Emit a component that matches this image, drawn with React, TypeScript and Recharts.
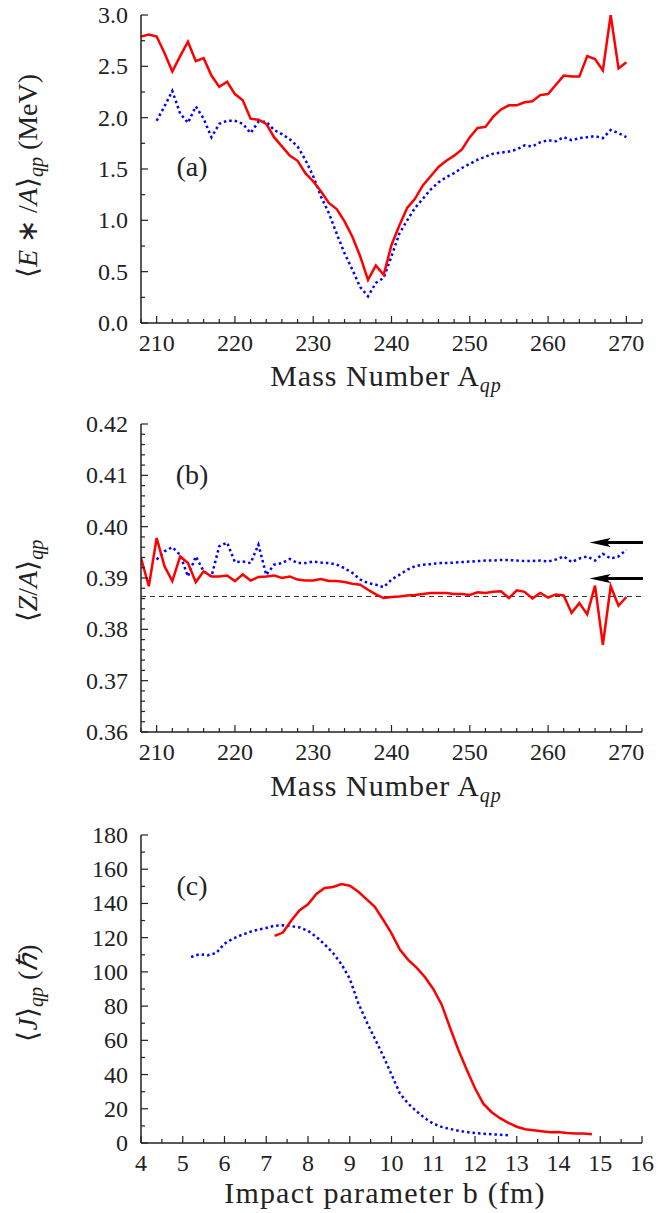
import React from 'react';
import { LineChart, Line, XAxis, YAxis, ReferenceLine } from 'recharts';

const FONT = '"Liberation Serif"';
const FRAME = '#222';
const TEXT = '#222';
const RED = '#ff0000';
const BLUE = '#0000ff';

// ---------- Panel (a) & (b): mass number axis ----------
const massNumbers = [
  208, 209, 210, 211, 212, 213, 214, 215, 216, 217, 218, 219, 220, 221, 222, 223,
  224, 225, 226, 227, 228, 229, 230, 231, 232, 233, 234, 235, 236, 237, 238, 239,
  240, 241, 242, 243, 244, 245, 246, 247, 248, 249, 250, 251, 252, 253, 254, 255,
  256, 257, 258, 259, 260, 261, 262, 263, 264, 265, 266, 267, 268, 269, 270,
];

const excitationRed = [
  2.79, 2.81, 2.79, 2.63, 2.45, 2.60, 2.74, 2.55, 2.58, 2.41, 2.30, 2.35, 2.23, 2.17, 1.99, 1.98,
  1.94, 1.81, 1.72, 1.63, 1.58, 1.46, 1.38, 1.28, 1.17, 1.11, 0.99, 0.84, 0.65, 0.42, 0.56, 0.47,
  0.76, 0.95, 1.12, 1.21, 1.34, 1.43, 1.52, 1.58, 1.63, 1.69, 1.81, 1.90, 1.91, 2.01, 2.08, 2.12,
  2.12, 2.15, 2.16, 2.22, 2.23, 2.32, 2.41, 2.40, 2.40, 2.60, 2.57, 2.46, 3.00, 2.48, 2.54,
];

const excitationBlue = [
  null, null, 1.97, 2.11, 2.26, 2.04, 1.95, 2.11, 1.99, 1.81, 1.94, 1.97, 1.97, 1.94, 1.85, 1.96,
  1.96, 1.88, 1.84, 1.79, 1.72, 1.59, 1.43, 1.23, 1.07, 0.87, 0.68, 0.52, 0.35, 0.26, 0.39, 0.44,
  0.65, 0.87, 1.00, 1.12, 1.21, 1.30, 1.37, 1.42, 1.46, 1.51, 1.55, 1.59, 1.62, 1.65, 1.66, 1.67,
  1.69, 1.73, 1.72, 1.76, 1.78, 1.77, 1.81, 1.78, 1.80, 1.81, 1.82, 1.80, 1.88, 1.85, 1.81,
];

const zOverARed = [
  0.3939, 0.3884, 0.3978, 0.3923, 0.3894, 0.3942, 0.3929, 0.3892, 0.3913, 0.3903, 0.3903, 0.3905, 0.3894, 0.3907, 0.3895, 0.3902,
  0.3903, 0.3905, 0.3900, 0.3903, 0.3897, 0.3895, 0.3895, 0.3898, 0.3894, 0.3894, 0.3892, 0.3889, 0.3887, 0.3877, 0.3868, 0.3861,
  0.3863, 0.3864, 0.3866, 0.3867, 0.3869, 0.3871, 0.3871, 0.3871, 0.3869, 0.3869, 0.3867, 0.3872, 0.3871, 0.3873, 0.3874, 0.3861,
  0.3876, 0.3873, 0.3860, 0.3871, 0.3862, 0.3868, 0.3866, 0.3832, 0.3851, 0.3829, 0.3885, 0.3770, 0.3884, 0.3846, 0.3863,
];

const zOverABlue = [
  null, null, 0.3936, 0.3952, 0.3960, 0.3945, 0.3903, 0.3942, 0.3913, 0.3903, 0.3962, 0.3969, 0.3931, 0.3932, 0.3929, 0.3965,
  0.3906, 0.3926, 0.3929, 0.3937, 0.3929, 0.3929, 0.3932, 0.3930, 0.3929, 0.3926, 0.3919, 0.3910, 0.3897, 0.3890, 0.3887, 0.3882,
  0.3897, 0.3906, 0.3916, 0.3923, 0.3926, 0.3927, 0.3929, 0.3929, 0.3930, 0.3931, 0.3932, 0.3933, 0.3934, 0.3934, 0.3935, 0.3935,
  0.3934, 0.3933, 0.3933, 0.3934, 0.3932, 0.3936, 0.3942, 0.3931, 0.3938, 0.3942, 0.3934, 0.3947, 0.3938, 0.3942, 0.3955,
];

// reference values in panel (b)
const zOverACompound = 0.3864;
const arrowLevels = [0.3969, 0.3899];
const arrowStart = 265.3;

// ---------- Panel (c): impact parameter ----------
const impactRed = [
  7.2, 7.4, 7.6, 7.8, 8.0, 8.2, 8.4, 8.6, 8.8, 9.0, 9.2, 9.4, 9.6, 9.8, 10.0, 10.2, 10.4, 10.6, 10.8, 11.0,
  11.2, 11.4, 11.6, 11.8, 12.0, 12.2, 12.4, 12.6, 12.8, 13.0, 13.2, 13.4, 13.6, 13.8, 14.0, 14.2, 14.4, 14.6, 14.8,
];
const spinRed = [
  121, 123, 130, 136, 139.5, 145.5, 149, 149.6, 151.3, 150.4, 147, 142.5, 138, 130.5, 122.5, 113, 107, 102.5, 97, 90,
  81, 67.5, 54.5, 43, 32, 23, 18, 14.5, 11.8, 9.5, 8.0, 7.4, 6.8, 6.3, 6.4, 5.8, 5.5, 5.5, 5.1,
];
const impactBlue = [
  5.2, 5.4, 5.6, 5.8, 6.0, 6.2, 6.4, 6.6, 6.8, 7.0, 7.2, 7.4, 7.6, 7.8, 8.0, 8.2, 8.4, 8.6, 8.8, 9.0,
  9.2, 9.4, 9.6, 9.8, 10.0, 10.2, 10.4, 10.6, 10.8, 11.0, 11.2, 11.4, 11.6, 11.8, 12.0, 12.2, 12.4, 12.6, 12.8,
];
const spinBlue = [
  108.7, 110.3, 109.7, 111, 116.5, 119.4, 121.5, 123.3, 124.7, 125.7, 127, 127.2, 126.7, 126, 124, 120.5, 116, 111, 104.5, 96,
  82, 71, 61, 51, 40, 29, 23, 18.5, 14.5, 11.3, 9.4, 8.2, 7.2, 6.4, 5.8, 5.4, 5.1, 4.8, 4.5,
];

// ---------- ticks ----------
const massTicks = [
  208, 210, 212, 214, 216, 218, 220, 222, 224, 226, 228, 230, 232, 234, 236, 238, 240,
  242, 244, 246, 248, 250, 252, 254, 256, 258, 260, 262, 264, 266, 268, 270, 272,
];
const massMajor = [210, 220, 230, 240, 250, 260, 270];
const exTicks = [0, 0.25, 0.5, 0.75, 1.0, 1.25, 1.5, 1.75, 2.0, 2.25, 2.5, 2.75, 3.0];
const exMajor = [0, 0.5, 1.0, 1.5, 2.0, 2.5, 3.0];
const zaTicks = [
  0.360, 0.362, 0.364, 0.366, 0.368, 0.370, 0.372, 0.374, 0.376, 0.378, 0.380, 0.382, 0.384, 0.386, 0.388, 0.390,
  0.392, 0.394, 0.396, 0.398, 0.400, 0.402, 0.404, 0.406, 0.408, 0.410, 0.412, 0.414, 0.416, 0.418, 0.420,
];
const zaMajor = [0.36, 0.37, 0.38, 0.39, 0.40, 0.41, 0.42];
const bTicks = [4, 4.5, 5, 5.5, 6, 6.5, 7, 7.5, 8, 8.5, 9, 9.5, 10, 10.5, 11, 11.5, 12, 12.5, 13, 13.5, 14, 14.5, 15, 15.5, 16];
const bMajor = [4, 5, 6, 7, 8, 9, 10, 11, 12, 13, 14, 15, 16];
const jTicks = [0, 10, 20, 30, 40, 50, 60, 70, 80, 90, 100, 110, 120, 130, 140, 150, 160, 170, 180];
const jMajor = [0, 20, 40, 60, 80, 100, 120, 140, 160, 180];

const massData = massNumbers.map((m, i) => ({
  m,
  exRed: excitationRed[i],
  exBlue: excitationBlue[i],
  zaRed: zOverARed[i],
  zaBlue: zOverABlue[i],
}));
const spinRedData = impactRed.map((b, i) => ({ b, j: spinRed[i] }));
const spinBlueData = impactBlue.map((b, i) => ({ b, j: spinBlue[i] }));

// ---------- tick renderers ----------
const MAJOR_LEN = 7;
const MINOR_LEN = 4;
const TICK_FS = 24;
const isIn = (arr: number[], v: number) => arr.some((a) => Math.abs(a - v) < 1e-9);

const bottomTick = (majors: number[], fmt: (v: number) => string) => (props: any) => {
  const { x, y, payload } = props;
  const v = payload.value;
  const major = isIn(majors, v);
  return (
    <g>
      <line x1={x} x2={x} y1={y} y2={y - (major ? MAJOR_LEN : MINOR_LEN)} stroke={FRAME} strokeWidth={1.2} />
      {major && (
        <text x={x} y={y + 27.5} textAnchor="middle" fontFamily={FONT} fontSize={TICK_FS} fill={TEXT}>
          {fmt(v)}
        </text>
      )}
    </g>
  );
};
const topTick = (majors: number[]) => (props: any) => {
  const { x, y, payload } = props;
  const major = isIn(majors, payload.value);
  return <line x1={x} x2={x} y1={y} y2={y + (major ? MAJOR_LEN : MINOR_LEN)} stroke={FRAME} strokeWidth={1.2} />;
};
const leftTick = (majors: number[], fmt: (v: number) => string) => (props: any) => {
  const { x, y, payload } = props;
  const v = payload.value;
  const major = isIn(majors, v);
  return (
    <g>
      <line x1={x} x2={x + (major ? MAJOR_LEN : MINOR_LEN)} y1={y} y2={y} stroke={FRAME} strokeWidth={1.2} />
      {major && (
        <text x={x - 13} y={y + 8} textAnchor="end" fontFamily={FONT} fontSize={TICK_FS} fill={TEXT}>
          {fmt(v)}
        </text>
      )}
    </g>
  );
};
const rightTick = (majors: number[]) => (props: any) => {
  const { x, y, payload } = props;
  const major = isIn(majors, payload.value);
  return <line x1={x} x2={x - (major ? MAJOR_LEN : MINOR_LEN)} y1={y} y2={y} stroke={FRAME} strokeWidth={1.2} />;
};

const Arrow = (props: any) => {
  const { x1, y1, x2 } = props;
  const tip = Math.min(x1, x2);
  const end = Math.max(x1, x2);
  const y = y1;
  return (
    <g>
      <line x1={tip + 14} y1={y} x2={end + 1} y2={y} stroke="#000" strokeWidth={3} />
      <polygon points={`${tip},${y} ${tip + 21},${y - 4.5} ${tip + 17},${y} ${tip + 21},${y + 4.5}`} fill="#000" />
    </g>
  );
};

const axisLineStyle = { stroke: FRAME, strokeWidth: 1.5 };
const W = 659;
const MARGIN = { top: 15, right: 17, bottom: 0, left: 0 };

function frameAxes(
  xKey: string,
  xDomain: [number, number],
  xTicks: number[],
  xMajor: number[],
  xFmt: (v: number) => string,
  yDomain: [number, number],
  yTicks: number[],
  yMajor: number[],
  yFmt: (v: number) => string,
  bottomH: number,
) {
  return [
    <XAxis
      key="xb"
      dataKey={xKey}
      type="number"
      domain={xDomain}
      ticks={xTicks}
      interval={0}
      height={bottomH}
      tickSize={0}
      tickMargin={0}
      tickLine={false}
      axisLine={axisLineStyle}
      tick={bottomTick(xMajor, xFmt)}
      allowDataOverflow
    />,
    <XAxis
      key="xt"
      xAxisId="top"
      orientation="top"
      dataKey={xKey}
      type="number"
      domain={xDomain}
      ticks={xTicks}
      interval={0}
      height={0}
      tickSize={0}
      tickMargin={0}
      tickLine={false}
      axisLine={axisLineStyle}
      tick={topTick(xMajor)}
      allowDataOverflow
    />,
    <YAxis
      key="yl"
      type="number"
      domain={yDomain}
      ticks={yTicks}
      interval={0}
      width={141}
      tickSize={0}
      tickMargin={0}
      tickLine={false}
      axisLine={axisLineStyle}
      tick={leftTick(yMajor, yFmt)}
      allowDataOverflow
    />,
    <YAxis
      key="yr"
      yAxisId="right"
      orientation="right"
      type="number"
      domain={yDomain}
      ticks={yTicks}
      interval={0}
      width={0}
      tickSize={0}
      tickMargin={0}
      tickLine={false}
      axisLine={axisLineStyle}
      tick={rightTick(yMajor)}
      allowDataOverflow
    />,
  ];
}

const TITLE_FS = 28;
const XTITLE_FS = 30;
const SUB_FS = 20;

export default function App() {
  return (
    <div style={{ position: 'absolute', left: 0, top: 0, width: W, height: 1213, background: '#fff', overflow: 'hidden' }}>
      {/* Panel (a) */}
      <div style={{ position: 'absolute', left: 0, top: 0 }}>
        <LineChart width={W} height={400} data={massData} margin={MARGIN}>
          {frameAxes('m', [208, 272], massTicks, massMajor, (v) => String(v), [0, 3], exTicks, exMajor, (v) => v.toFixed(1), 77)}
          <Line dataKey="exBlue" stroke={BLUE} strokeWidth={2.5} strokeDasharray="2.5 3" dot={false} isAnimationActive={false} connectNulls={false} />
          <Line dataKey="exRed" stroke={RED} strokeWidth={2.5} dot={false} isAnimationActive={false} />
        </LineChart>
      </div>

      {/* Panel (b) */}
      <div style={{ position: 'absolute', left: 0, top: 409 }}>
        <LineChart width={W} height={400} data={massData} margin={MARGIN}>
          {frameAxes('m', [208, 272], massTicks, massMajor, (v) => String(v), [0.36, 0.42], zaTicks, zaMajor, (v) => v.toFixed(2), 77)}
          <ReferenceLine y={zOverACompound} stroke="#333" strokeWidth={1} strokeDasharray="5 4" />
          <Line dataKey="zaBlue" stroke={BLUE} strokeWidth={2.5} strokeDasharray="2.5 3" dot={false} isAnimationActive={false} connectNulls={false} />
          <Line dataKey="zaRed" stroke={RED} strokeWidth={2.5} dot={false} isAnimationActive={false} />
          {arrowLevels.map((lv, i) => (
            <ReferenceLine
              key={i}
              segment={[{ x: arrowStart, y: lv }, { x: 272, y: lv }]}
              shape={Arrow}
              ifOverflow="visible"
            />
          ))}
        </LineChart>
      </div>

      {/* Panel (c) */}
      <div style={{ position: 'absolute', left: 0, top: 820 }}>
        <LineChart width={W} height={393} margin={MARGIN}>
          {frameAxes('b', [4, 16], bTicks, bMajor, (v) => String(v), [0, 180], jTicks, jMajor, (v) => String(v), 70)}
          <Line data={spinBlueData} dataKey="j" stroke={BLUE} strokeWidth={2.5} strokeDasharray="2.5 3" dot={false} isAnimationActive={false} />
          <Line data={spinRedData} dataKey="j" stroke={RED} strokeWidth={2.5} dot={false} isAnimationActive={false} />
        </LineChart>
      </div>

      {/* Titles & panel labels */}
      <svg width={W} height={1213} style={{ position: 'absolute', left: 0, top: 0, pointerEvents: 'none' }}>
        <g fontFamily={FONT} fill={TEXT}>
          {/* x titles */}
          <text x={386} y={386} textAnchor="middle" fontSize={XTITLE_FS} letterSpacing={1}>
            Mass Number A<tspan fontStyle="italic" fontSize={SUB_FS} dy={6}>qp</tspan>
          </text>
          <text x={386} y={796} textAnchor="middle" fontSize={XTITLE_FS} letterSpacing={1}>
            Mass Number A<tspan fontStyle="italic" fontSize={SUB_FS} dy={6}>qp</tspan>
          </text>
          <text x={385} y={1203} textAnchor="middle" fontSize={XTITLE_FS} letterSpacing={1.2}>
            Impact parameter b (fm)
          </text>

          {/* y titles */}
          <text transform="translate(37,176) rotate(-90)" textAnchor="middle" fontSize={TITLE_FS}>
            ⟨<tspan fontStyle="italic">E</tspan> ∗ /<tspan fontStyle="italic">A</tspan>⟩
            <tspan fontStyle="italic" fontSize={SUB_FS} dy={6}>qp</tspan>
            <tspan dy={-6}> (MeV)</tspan>
          </text>
          <text transform="translate(37,581) rotate(-90)" textAnchor="middle" fontSize={TITLE_FS}>
            ⟨<tspan fontStyle="italic">Z</tspan>/<tspan fontStyle="italic">A</tspan>⟩
            <tspan fontStyle="italic" fontSize={SUB_FS} dy={6}>qp</tspan>
          </text>
          <text transform="translate(37,993) rotate(-90)" textAnchor="middle" fontSize={TITLE_FS}>
            ⟨<tspan fontStyle="italic">J</tspan>⟩
            <tspan fontStyle="italic" fontSize={SUB_FS} dy={6}>qp</tspan>
            <tspan dy={-6}> (</tspan>
            <tspan fontStyle="italic">ℏ</tspan>)
          </text>

          {/* panel labels */}
          <text x={192} y={176} textAnchor="middle" fontSize={TITLE_FS}>(a)</text>
          <text x={192} y={484} textAnchor="middle" fontSize={TITLE_FS}>(b)</text>
          <text x={192} y={895} textAnchor="middle" fontSize={TITLE_FS}>(c)</text>
        </g>
      </svg>
    </div>
  );
}
